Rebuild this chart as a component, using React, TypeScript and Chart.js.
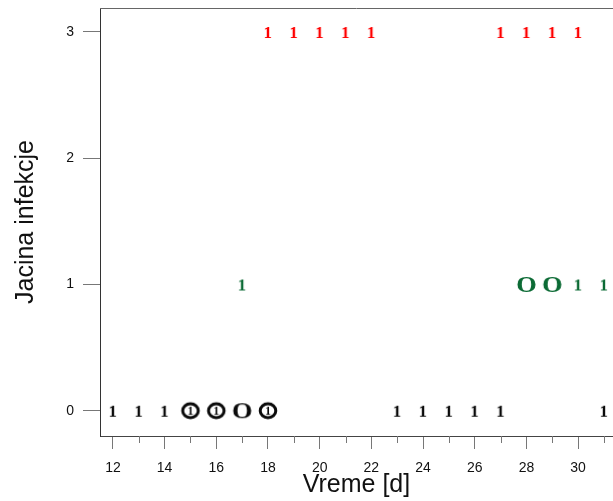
import React, { useEffect, useRef } from 'react';
import { Chart, registerables } from 'chart.js';

Chart.register(...registerables);

// Axis ticks
const xTickValues = [12, 14, 16, 18, 20, 22, 24, 26, 28, 30];
const xMinorTickValues = [13, 15, 17, 19, 21, 23, 25, 27, 29, 31];
const yTickValues = [0, 1, 2, 3];

// Data: day of observation and infection level
const blackOneDays = [12, 13, 14, 23, 24, 25, 26, 27, 31];
const blackOneLevels = [0, 0, 0, 0, 0, 0, 0, 0, 0];
const blackCircledDays = [15, 16, 18];
const blackCircledLevels = [0, 0, 0];
const blackRingDays = [17];
const blackRingLevels = [0];
const redOneDays = [18, 19, 20, 21, 22, 27, 28, 29, 30];
const redOneLevels = [3, 3, 3, 3, 3, 3, 3, 3, 3];
const greenOneDays = [17, 30, 31];
const greenOneLevels = [1, 1, 1];
const greenRingDays = [28, 29];
const greenRingLevels = [1, 1];

const BLACK = '#0a0a0a';
const RED = '#ff0000';
const GREEN = '#0b6a34';
const SERIF = '"Liberation Serif", "Times New Roman", serif';
const SANS = '"Liberation Sans", Arial, sans-serif';

function drawCenteredText(ctx: CanvasRenderingContext2D, text: string, cx: number, cy: number) {
  ctx.textAlign = 'left';
  ctx.textBaseline = 'alphabetic';
  const m = ctx.measureText(text);
  const x = cx - (m.actualBoundingBoxRight - m.actualBoundingBoxLeft) / 2;
  const y = cy + (m.actualBoundingBoxAscent - m.actualBoundingBoxDescent) / 2;
  ctx.fillText(text, x, y);
}

function makeGlyph(text: string, color: string, size: number, stretch = 1): HTMLCanvasElement {
  const c = document.createElement('canvas');
  const w = Math.ceil(size * 1.4);
  c.width = w;
  c.height = w;
  const ctx = c.getContext('2d')!;
  ctx.font = `bold ${size}px ${SERIF}`;
  ctx.fillStyle = color;
  ctx.translate(w / 2, w / 2);
  ctx.scale(stretch, 1);
  drawCenteredText(ctx, text, 0, 0);
  return c;
}

function makeCircled(color: string): HTMLCanvasElement {
  const c = document.createElement('canvas');
  c.width = 24;
  c.height = 24;
  const ctx = c.getContext('2d')!;
  ctx.strokeStyle = color;
  ctx.lineWidth = 3;
  ctx.beginPath();
  ctx.ellipse(12, 12, 7.8, 7, 0, 0, Math.PI * 2);
  ctx.stroke();
  ctx.font = `bold 12px ${SERIF}`;
  ctx.fillStyle = color;
  drawCenteredText(ctx, '1', 12, 12);
  return c;
}

function pts(days: number[], levels: number[]) {
  return days.map((d, i) => ({ x: d, y: levels[i] }));
}

const framePlugin = {
  id: 'frameAndMinor',
  afterDraw(chart: any) {
    const ctx = chart.ctx;
    const { left, right, top, bottom } = chart.chartArea;
    const xs = chart.scales.x;
    ctx.save();
    ctx.lineWidth = 1;
    ctx.strokeStyle = '#777777';
    xMinorTickValues.forEach((v) => {
      const px = Math.round(xs.getPixelForValue(v)) + 0.5;
      ctx.beginPath();
      ctx.moveTo(px, bottom);
      ctx.lineTo(px, bottom + 7);
      ctx.stroke();
    });
    ctx.strokeStyle = '#666666';
    ctx.beginPath();
    ctx.moveTo(left, top + 0.5);
    ctx.lineTo(right, top + 0.5);
    ctx.stroke();
    ctx.restore();
  },
};

export default function App() {
  const ref = useRef<HTMLCanvasElement | null>(null);

  useEffect(() => {
    document.body.style.margin = '0';
    const canvas = ref.current;
    if (!canvas) return;

    const oneBlack = makeGlyph('1', BLACK, 17);
    const ringBlack = makeGlyph('O', BLACK, 23, 1.15);
    const circledBlack = makeCircled(BLACK);
    const oneRed = makeGlyph('1', RED, 17);
    const oneGreen = makeGlyph('1', GREEN, 17);
    const ringGreen = makeGlyph('O', GREEN, 23, 1.15);

    const common = {
      showLine: false,
      pointRadius: 8,
      pointHoverRadius: 8,
      clip: false as any,
    };

    const chart = new Chart(canvas, {
      type: 'scatter',
      data: {
        datasets: [
          { ...common, label: 'black O', data: pts(blackRingDays, blackRingLevels), pointStyle: ringBlack as any },
          { ...common, label: 'black circled 1', data: pts(blackCircledDays, blackCircledLevels), pointStyle: circledBlack as any },
          { ...common, label: 'black 1', data: pts(blackOneDays, blackOneLevels), pointStyle: oneBlack as any },
          { ...common, label: 'red 1', data: pts(redOneDays, redOneLevels), pointStyle: oneRed as any },
          { ...common, label: 'green O', data: pts(greenRingDays, greenRingLevels), pointStyle: ringGreen as any },
          { ...common, label: 'green 1', data: pts(greenOneDays, greenOneLevels), pointStyle: oneGreen as any },
        ],
      },
      options: {
        responsive: false,
        animation: false,
        layout: { autoPadding: false, padding: { top: 8, right: 0, left: 0, bottom: 0 } },
        plugins: {
          legend: { display: false },
          tooltip: { enabled: false },
        },
        scales: {
          x: {
            type: 'linear',
            min: 11.5,
            max: 31.35,
            afterFit: (s: any) => {
              s.height = 65;
              s.paddingLeft = 0;
              s.paddingRight = 0;
            },
            afterBuildTicks: (s: any) => {
              s.ticks = xTickValues.map((v) => ({ value: v }));
            },
            grid: {
              drawOnChartArea: false,
              drawTicks: true,
              tickLength: 13,
              tickColor: '#777777',
            },
            border: { display: true, color: '#444444', width: 1 },
            ticks: {
              padding: 11,
              color: '#111111',
              font: { family: SANS, size: 14 },
              maxRotation: 0,
              autoSkip: false,
              callback: (v: any) => String(v),
            },
            title: {
              display: true,
              text: 'Vreme [d]',
              color: '#111111',
              font: { family: SANS, size: 25 },
              padding: { top: 0, bottom: 1 },
            },
          },
          y: {
            type: 'linear',
            min: -0.2,
            max: 3.19,
            afterFit: (s: any) => {
              s.width = 100;
              s.paddingTop = 0;
              s.paddingBottom = 0;
            },
            afterBuildTicks: (s: any) => {
              s.ticks = yTickValues.map((v) => ({ value: v }));
            },
            grid: {
              drawOnChartArea: false,
              drawTicks: true,
              tickLength: 17,
              tickColor: '#777777',
            },
            border: { display: true, color: '#333333', width: 1 },
            ticks: {
              padding: 9,
              color: '#111111',
              font: { family: SANS, size: 14 },
              autoSkip: false,
              callback: (v: any) => String(v),
            },
            title: {
              display: true,
              text: 'Jacina infekcje',
              color: '#111111',
              font: { family: SANS, size: 25 },
              padding: { top: 11, bottom: 0 },
            },
          },
        },
      },
      plugins: [framePlugin],
    });

    return () => {
      chart.destroy();
    };
  }, []);

  return (
    <canvas
      ref={ref}
      width={613}
      height={501}
      style={{ display: 'block', width: 613, height: 501 }}
    />
  );
}
